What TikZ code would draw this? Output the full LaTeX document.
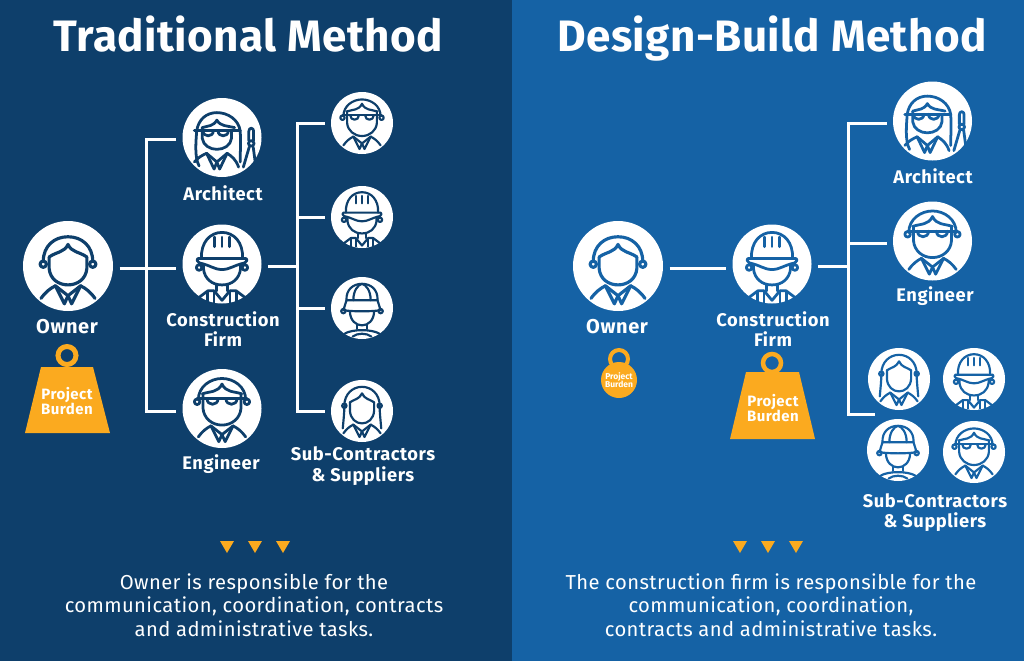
\documentclass[tikz,border=0pt]{standalone}
\usepackage{fontspec}
\setmainfont{Fira Sans}
\newfontfamily\titlefont[LetterSpace=1]{Fira Sans}
\newfontfamily\labelfont[LetterSpace=3]{Fira Sans}
\newfontfamily\bodyfont[LetterSpace=2]{Fira Sans}
\definecolor{leftbg}{RGB}{14,63,107}
\definecolor{rightbg}{RGB}{21,98,165}
\definecolor{burden}{RGB}{251,170,31}
\tikzset{
  disc/.style={circle,fill=white,draw=none,inner sep=0pt,outer sep=6.5pt},
  titletext/.style={text=white,font=\titlefont\bfseries\fontsize{44}{50}\selectfont,inner sep=0pt,anchor=base},
  roletext/.style={text=white,font=\labelfont\bfseries\fontsize{18.3}{20.7}\selectfont,align=center,inner sep=0pt},
  ownertext/.style={text=white,font=\labelfont\bfseries\fontsize{20}{22}\selectfont,align=center,inner sep=0pt},
  desctext/.style={text=white,font=\bodyfont\fontsize{20.2}{23.5}\selectfont,align=center,inner sep=0pt},
  burdentext/.style={text=white,font=\labelfont\bfseries\fontsize{15}{14}\selectfont,align=center,inner sep=0pt},
  tinytext/.style={text=white,font=\bfseries\fontsize{8.5}{8.5}\selectfont,align=center,inner sep=0pt},
  wire/.style={draw=white,line width=3pt},
  tick/.style={fill=burden,draw=none},
  icn/.style={draw=ic,line join=round,line cap=round},
}
% --- icon parts, unit = circle radius, y up
\newcommand{\ears}[2]{\draw[icn] (-#1,#2) circle (.07); \draw[icn] (#1,#2) circle (.07);}
\newcommand{\collar}{%
  \draw[icn] (-.6,-.72) .. controls (-.5,-.58) and (-.4,-.5) .. (-.28,-.44);
  \draw[icn] (.6,-.72) .. controls (.5,-.58) and (.4,-.5) .. (.28,-.44);
  \draw[icn] (-.28,-.44) -- (-.08,-.84) -- (0,-.66) -- (.08,-.84) -- (.28,-.44);
  \draw[icn] (-.28,-.44) -- (0,-.66) -- (.28,-.44);}
\newcommand{\ownericon}{%
  \ears{.55}{.04}
  \draw[icn] (-.55,.1) .. controls (-.55,.45) and (-.3,.65) .. (0,.65) .. controls (.3,.65) and (.55,.45) .. (.55,.1);
  \draw[icn] (-.42,.2) .. controls (-.25,.32) and (-.08,.3) .. (0,.48) .. controls (.08,.3) and (.25,.32) .. (.42,.2);
  \draw[icn] (-.42,.2) -- (-.42,-.05) .. controls (-.4,-.3) and (-.2,-.42) .. (0,-.42) .. controls (.2,-.42) and (.4,-.3) .. (.42,-.05) -- (.42,.2);
  \collar}
\newcommand{\engineericon}{%
  \ears{.63}{.17}
  \draw[icn] (-.6,.22) .. controls (-.6,.55) and (-.3,.76) .. (0,.76) .. controls (.3,.76) and (.6,.55) .. (.6,.22);
  \draw[icn] (-.5,.37) .. controls (-.3,.44) and (-.1,.4) .. (0,.62) .. controls (.1,.4) and (.3,.44) .. (.5,.37);
  \draw[icn] (-.48,.37) -- (-.48,0) .. controls (-.46,-.25) and (-.25,-.42) .. (0,-.42) .. controls (.25,-.42) and (.46,-.25) .. (.48,0) -- (.48,.37);
  \draw[icn] (-.63,.25) -- (.63,.25);
  \draw[icn] (-.38,.25) .. controls (-.38,.06) and (-.1,.06) .. (-.1,.25);
  \draw[icn] (.38,.25) .. controls (.38,.06) and (.1,.06) .. (.1,.25);
  \collar}
\newcommand{\firmicon}{%
  \draw[icn] (-.52,.14) .. controls (-.54,.55) and (-.3,.8) .. (0,.8) .. controls (.3,.8) and (.54,.55) .. (.52,.14);
  \foreach \sx in {-.19,0,.19} \draw[icn] (\sx,.68) -- (\sx,.44);
  \draw[icn] (-.6,.14) -- (.6,.14) .. controls (.64,.14) and (.64,.04) .. (.58,.03) .. controls (.3,-.03) and (.2,-.14) .. (0,-.14) .. controls (-.2,-.14) and (-.3,-.03) .. (-.58,.03) .. controls (-.64,.04) and (-.64,.14) .. (-.6,.14) -- cycle;
  \ears{.58}{-.09}
  \draw[icn] (-.47,-.03) -- (-.47,-.12) .. controls (-.44,-.38) and (-.25,-.53) .. (0,-.53) .. controls (.25,-.53) and (.44,-.38) .. (.47,-.12) -- (.47,-.03);
  \draw[icn] (-.14,-.53) -- (-.14,-.68) (.14,-.53) -- (.14,-.68);
  \draw[icn] (-.2,-.68) -- (0,-.92) -- (.2,-.68);
  \draw[icn] (-.6,-.86) -- (-.36,-.68) -- (-.2,-.68) (.6,-.86) -- (.36,-.68) -- (.2,-.68);
  \foreach \sx in {-.36,-.2,.2,.36} \draw[icn,line cap=butt] (\sx,-.7) -- (\sx,-.98);}
\newcommand{\capicon}{%
  \draw[icn] (-.5,.25) .. controls (-.52,.6) and (-.28,.78) .. (0,.78) .. controls (.28,.78) and (.52,.6) .. (.5,.25);
  \draw[icn] (-.28,.25) .. controls (-.28,.55) and (-.14,.75) .. (0,.78) .. controls (.14,.75) and (.28,.55) .. (.28,.25);
  \draw[icn] (-.5,.25) -- (.5,.25) -- (.6,-.07) .. controls (.3,-.12) and (-.3,-.12) .. (-.6,-.07) -- cycle;
  \ears{.6}{-.1}
  \draw[icn] (-.39,-.12) .. controls (-.38,-.4) and (-.2,-.56) .. (0,-.56) .. controls (.2,-.56) and (.38,-.4) .. (.39,-.12);
  \draw[icn] (-.15,-.56) -- (-.15,-.68) (.15,-.56) -- (.15,-.68);
  \draw[icn] (-.55,-.82) .. controls (-.3,-.68) and (.3,-.68) .. (.55,-.82);
  \draw[icn] (-.3,-.92) .. controls (-.15,-.8) and (.15,-.8) .. (.3,-.92);}
\newcommand{\womanicon}{%
  \draw[icn] (-.62,-.56) .. controls (-.6,-.3) and (-.57,-.1) .. (-.57,.17) .. controls (-.57,.55) and (-.3,.78) .. (0,.78) .. controls (.3,.78) and (.57,.55) .. (.57,.17) .. controls (.57,-.1) and (.6,-.3) .. (.62,-.56);
  \ears{.57}{.17}
  \draw[icn] (-.39,.28) .. controls (-.25,.38) and (-.08,.38) .. (0,.57) .. controls (.08,.38) and (.25,.38) .. (.39,.28);
  \draw[icn] (-.39,.28) -- (-.39,0) .. controls (-.37,-.25) and (-.2,-.4) .. (0,-.4) .. controls (.2,-.4) and (.37,-.25) .. (.39,0) -- (.39,.28);
  \collar}
\newcommand{\architecticon}{%
  \draw[icn] (-.58,-.72) .. controls (-.7,-.5) and (-.66,-.1) .. (-.64,.17) .. controls (-.6,.45) and (-.4,.63) .. (-.13,.63) .. controls (.15,.63) and (.42,.45) .. (.46,.17) .. controls (.48,-.1) and (.46,-.4) .. (.46,-.62);
  \draw[icn] (-.5,.25) .. controls (-.35,.3) and (-.22,.28) .. (-.13,.44) .. controls (-.04,.28) and (.12,.3) .. (.32,.25);
  \draw[icn] (-.7,.17) -- (.46,.17);
  \draw[icn] (-.48,.17) .. controls (-.48,0) and (-.22,0) .. (-.22,.17);
  \draw[icn] (.16,.17) .. controls (.16,0) and (-.1,0) .. (-.1,.17);
  \draw[icn] (-.5,.25) -- (-.5,-.02) .. controls (-.48,-.2) and (-.3,-.3) .. (-.13,-.3) .. controls (.05,-.3) and (.22,-.2) .. (.24,-.02) -- (.24,.17);
  \draw[icn] (-.7,-.62) .. controls (-.6,-.5) and (-.5,-.45) .. (-.39,-.4);
  \draw[icn] (.42,-.75) .. controls (.35,-.55) and (.25,-.48) .. (.13,-.4);
  \draw[icn] (-.39,-.4) -- (-.2,-.8) -- (-.13,-.62) -- (-.06,-.8) -- (.13,-.4);
  \draw[icn] (-.39,-.4) -- (-.13,-.62) -- (.13,-.4);
  \draw[icn] (.68,-.08) -- (.68,.16) .. controls (.68,.26) and (.8,.26) .. (.8,.16) -- (.8,-.08);
  \draw[icn] (.74,-.15) circle (.07);
  \draw[icn] (.69,-.24) -- (.54,-.75) (.79,-.24) -- (.84,-.62);}
\newcommand{\place}[5]{% body, x, y, r, colour
  \begin{scope}[shift={(#2,#3)},x=#4pt,y=#4pt,line width=.07*#4pt]
    \colorlet{ic}{#5}#1
  \end{scope}}
\newcommand{\wedgetick}[2]{\fill[tick] (#1-7,#2) -- (#1+7,#2) -- (#1,#2+12) -- cycle;}
\begin{document}
\begin{tikzpicture}[x=1pt,y=-1pt]
\useasboundingbox (0,0) rectangle (1024,661);
\fill[leftbg] (0,0) rectangle (511.5,661);
\fill[rightbg] (511.5,0) rectangle (1024,661);

\node[titletext] (ltitle) at (248.5,52) {Traditional Method};
\node[titletext] (rtitle) at (772,52) {Design-Build Method};

% left discs
\node[disc,minimum size=90pt] (lowner) at (68,266) {};
\node[disc,minimum size=79pt] (larch) at (222,137.5) {};
\node[disc,minimum size=79pt] (lfirm) at (222,264) {};
\node[disc,minimum size=79pt] (leng) at (222,408.5) {};
\node[disc,minimum size=62pt] (lsa) at (362,123) {};
\node[disc,minimum size=62pt] (lsb) at (362,217) {};
\node[disc,minimum size=62pt] (lsc) at (362,308) {};
\node[disc,minimum size=62pt] (lsd) at (362,411) {};
% right discs
\node[disc,minimum size=90pt] (rowner) at (618,266) {};
\node[disc,minimum size=79pt] (rfirm) at (772,264) {};
\node[disc,minimum size=79pt] (rarch) at (932.5,121) {};
\node[disc,minimum size=79pt] (reng) at (932.5,241) {};
\node[disc,minimum size=62pt] (rsa) at (899,379) {};
\node[disc,minimum size=62pt] (rsb) at (974,379) {};
\node[disc,minimum size=62pt] (rsc) at (898,450) {};
\node[disc,minimum size=62pt] (rsd) at (974,452) {};

% icons
\place{\ownericon}{68}{266}{45}{leftbg}
\place{\architecticon}{222}{137.5}{39.5}{leftbg}
\place{\firmicon}{222}{264}{39.5}{leftbg}
\place{\engineericon}{222}{408.5}{39.5}{leftbg}
\place{\engineericon}{362}{123}{31}{leftbg}
\place{\firmicon}{362}{217}{31}{leftbg}
\place{\capicon}{362}{308}{31}{leftbg}
\place{\womanicon}{362}{411}{31}{leftbg}
\place{\ownericon}{618}{266}{45}{rightbg}
\place{\firmicon}{772}{264}{39.5}{rightbg}
\place{\architecticon}{932.5}{121}{39.5}{rightbg}
\place{\engineericon}{932.5}{241}{39.5}{rightbg}
\place{\womanicon}{899}{379}{31}{rightbg}
\place{\firmicon}{974}{379}{31}{rightbg}
\place{\capicon}{898}{450}{31}{rightbg}
\place{\engineericon}{974}{452}{31}{rightbg}

% left connectors
\coordinate (lbusa) at (146,139);
\coordinate (lbusb) at (146,268);
\coordinate (lbusc) at (146,411);
\coordinate (lsbus) at (297,266);
\draw[wire] (lowner.east |- lbusb) -- (lfirm.west |- lbusb);
\draw[wire] (larch.west |- lbusa) -- (lbusa) -- (lbusc) -- (leng.west |- lbusc);
\draw[wire] (lfirm.east |- lsbus) -- (lsbus);
\draw[wire] (lsa.west) -- (lsa.west -| lsbus) -- (lsd.west -| lsbus) -- (lsd.west);
\draw[wire] (lsb.west -| lsbus) -- (lsb.west);
\draw[wire] (lsc.west -| lsbus) -- (lsc.west);
% right connectors
\coordinate (rbusb) at (669,268);
\coordinate (rsbus) at (848,266);
\coordinate (rbust) at (848,123);
\coordinate (rbusm) at (848,243);
\coordinate (rbuse) at (848,414);
\coordinate (rsend) at (875,414);
\draw[wire] (rowner.east |- rbusb) -- (rfirm.west |- rbusb);
\draw[wire] (rfirm.east |- rsbus) -- (rsbus);
\draw[wire] (rarch.west |- rbust) -- (rbust) -- (rbuse) -- (rsend);
\draw[wire] (rbusm) -- (reng.west |- rbusm);

% labels
\node[ownertext] (lownerlab) at (67,327) {Owner};
\node[roletext] (larchlab) at (223,193) {Architect};
\node[roletext] (lfirmlab) at (223,329) {Construction\\Firm};
\node[roletext] (lenglab) at (221,464) {Engineer};
\node[roletext] (lsublab) at (363,466) {Sub-Contractors\\\& Suppliers};
\node[ownertext] (rownerlab) at (617,327) {Owner};
\node[roletext] (rfirmlab) at (773,329) {Construction\\Firm};
\node[roletext] (rarchlab) at (933,176) {Architect};
\node[roletext] (renglab) at (935,296) {Engineer};
\node[roletext] (rsublab) at (935,512.5) {Sub-Contractors\\\& Suppliers};

% burdens
\draw[burden,line width=5pt,fill=none] (67,355.5) circle (9);
\fill[burden] (41,367) -- (93,367) -- (110,433) -- (25,433) -- cycle;
\node[burdentext] (lburden) at (67,401) {Project\\Burden};
\draw[burden,line width=4.5pt] (772,363) circle (9);
\fill[burden] (746,372) -- (799,372) -- (815,439) -- (730,439) -- cycle;
\node[burdentext] (rburden) at (773,408) {Project\\Burden};
\draw[burden,line width=4pt] (619,359) circle (9);
\fill[burden] (619,380) circle (18);
\node[tinytext] (rsmall) at (619,380) {Project\\Burden};

% triangles
\wedgetick{227}{541}\wedgetick{255}{541}\wedgetick{283}{541}
\wedgetick{740}{541}\wedgetick{768}{541}\wedgetick{796}{541}

% descriptions
\node[desctext] (ldesc) at (254,605) {Owner is responsible for the\\communication, coordination, contracts\\and administrative tasks.};
\node[desctext] (rdesc) at (771,605) {The construction firm is responsible for the\\communication, coordination,\\contracts and administrative tasks.};
\end{tikzpicture}
\end{document}
